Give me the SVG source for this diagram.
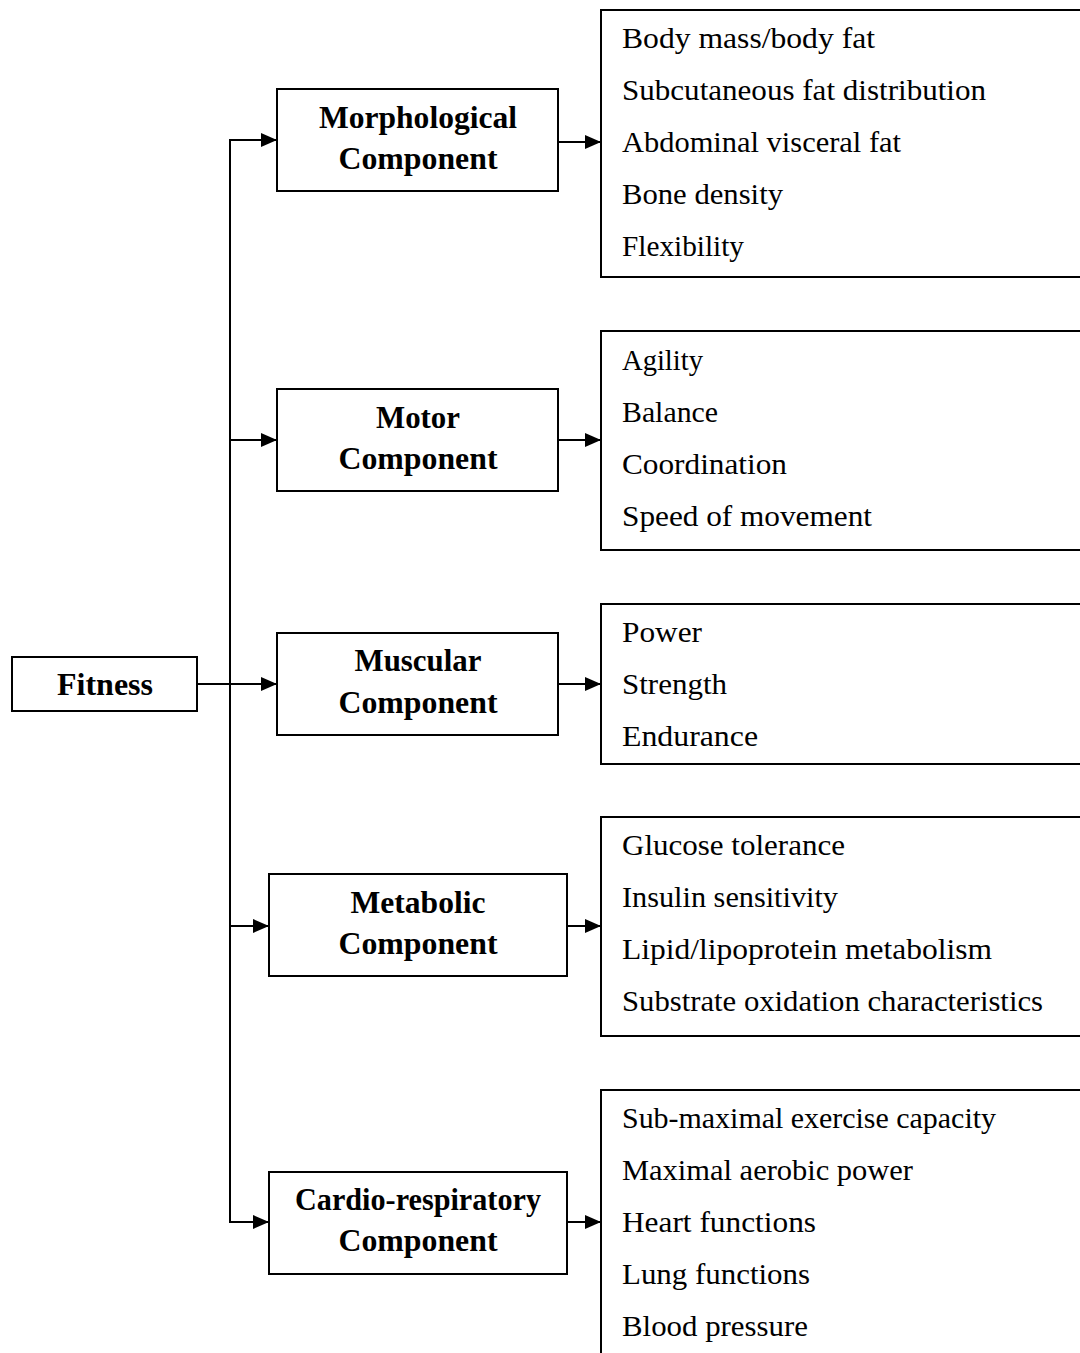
<svg xmlns="http://www.w3.org/2000/svg" width="1080" height="1353" viewBox="0 0 1080 1353">
  <defs>
    <marker id="arrow" markerWidth="16" markerHeight="14" refX="16" refY="7" orient="auto" markerUnits="userSpaceOnUse">
      <path d="M0,0 L16,7 L0,14 Z" fill="#000"/>
    </marker>
    <style>
      .box { fill: #fff; stroke: #000; stroke-width: 2; }
      .head { font-family: "Liberation Serif", "DejaVu Serif", serif; font-weight: bold; font-size: 31px; text-anchor: middle; fill: #000; }
      .item { font-family: "Liberation Serif", "DejaVu Serif", serif; font-size: 30px; fill: #000; }
      .link { fill: none; stroke: #000; stroke-width: 2; }
    </style>
  </defs>
  <rect width="1080" height="1353" fill="#fff"/>

  <g id="connectors">
    <!-- vertical trunk -->
    <line class="link" x1="230" y1="140" x2="230" y2="1222"/>
    <!-- trunk to component boxes -->
    <line class="link" x1="229" y1="140" x2="277" y2="140" marker-end="url(#arrow)"/>
    <line class="link" x1="230" y1="440" x2="277" y2="440" marker-end="url(#arrow)"/>
    <line class="link" x1="197" y1="684" x2="277" y2="684" marker-end="url(#arrow)"/>
    <line class="link" x1="230" y1="926" x2="269" y2="926" marker-end="url(#arrow)"/>
    <line class="link" x1="229" y1="1222" x2="269" y2="1222" marker-end="url(#arrow)"/>
    <!-- component boxes to detail lists -->
    <line class="link" x1="558" y1="142" x2="601" y2="142" marker-end="url(#arrow)"/>
    <line class="link" x1="558" y1="440" x2="601" y2="440" marker-end="url(#arrow)"/>
    <line class="link" x1="558" y1="684" x2="601" y2="684" marker-end="url(#arrow)"/>
    <line class="link" x1="567" y1="926" x2="601" y2="926" marker-end="url(#arrow)"/>
    <line class="link" x1="567" y1="1222" x2="601" y2="1222" marker-end="url(#arrow)"/>
  </g>

  <g id="fitness">
    <rect class="box" x="12" y="657" width="185" height="54"/>
    <text class="head" x="105" y="695" textLength="96" lengthAdjust="spacingAndGlyphs">Fitness</text>
  </g>

  <g id="morphological">
    <rect class="box" x="277" y="89" width="281" height="102"/>
    <text class="head" x="418" y="128" textLength="198" lengthAdjust="spacingAndGlyphs">Morphological</text>
    <text class="head" x="418" y="169" textLength="159" lengthAdjust="spacingAndGlyphs">Component</text>
  </g>
  <g id="motor">
    <rect class="box" x="277" y="389" width="281" height="102"/>
    <text class="head" x="418" y="428" textLength="84" lengthAdjust="spacingAndGlyphs">Motor</text>
    <text class="head" x="418" y="469" textLength="159" lengthAdjust="spacingAndGlyphs">Component</text>
  </g>
  <g id="muscular">
    <rect class="box" x="277" y="633" width="281" height="102"/>
    <text class="head" x="418" y="671" textLength="127" lengthAdjust="spacingAndGlyphs">Muscular</text>
    <text class="head" x="418" y="713" textLength="159" lengthAdjust="spacingAndGlyphs">Component</text>
  </g>
  <g id="metabolic">
    <rect class="box" x="269" y="874" width="298" height="102"/>
    <text class="head" x="418" y="913" textLength="135" lengthAdjust="spacingAndGlyphs">Metabolic</text>
    <text class="head" x="418" y="954" textLength="159" lengthAdjust="spacingAndGlyphs">Component</text>
  </g>
  <g id="cardio">
    <rect class="box" x="269" y="1172" width="298" height="102"/>
    <text class="head" x="418" y="1210" textLength="246" lengthAdjust="spacingAndGlyphs">Cardio-respiratory</text>
    <text class="head" x="418" y="1251" textLength="159" lengthAdjust="spacingAndGlyphs">Component</text>
  </g>

  <g id="morphological-items">
    <path class="link" d="M1082,10 H601 V277 H1082"/>
    <text class="item" x="622" y="48" textLength="253" lengthAdjust="spacingAndGlyphs">Body mass/body fat</text>
    <text class="item" x="622" y="100" textLength="364" lengthAdjust="spacingAndGlyphs">Subcutaneous fat distribution</text>
    <text class="item" x="622" y="152" textLength="279" lengthAdjust="spacingAndGlyphs">Abdominal visceral fat</text>
    <text class="item" x="622" y="204" textLength="161" lengthAdjust="spacingAndGlyphs">Bone density</text>
    <text class="item" x="622" y="256" textLength="122" lengthAdjust="spacingAndGlyphs">Flexibility</text>
  </g>
  <g id="motor-items">
    <path class="link" d="M1082,331 H601 V550 H1082"/>
    <text class="item" x="622" y="370" textLength="81" lengthAdjust="spacingAndGlyphs">Agility</text>
    <text class="item" x="622" y="422" textLength="96" lengthAdjust="spacingAndGlyphs">Balance</text>
    <text class="item" x="622" y="474" textLength="165" lengthAdjust="spacingAndGlyphs">Coordination</text>
    <text class="item" x="622" y="526" textLength="250" lengthAdjust="spacingAndGlyphs">Speed of movement</text>
  </g>
  <g id="muscular-items">
    <path class="link" d="M1082,604 H601 V764 H1082"/>
    <text class="item" x="622" y="642" textLength="80" lengthAdjust="spacingAndGlyphs">Power</text>
    <text class="item" x="622" y="694" textLength="105" lengthAdjust="spacingAndGlyphs">Strength</text>
    <text class="item" x="622" y="746" textLength="136" lengthAdjust="spacingAndGlyphs">Endurance</text>
  </g>
  <g id="metabolic-items">
    <path class="link" d="M1082,817 H601 V1036 H1082"/>
    <text class="item" x="622" y="855" textLength="223" lengthAdjust="spacingAndGlyphs">Glucose tolerance</text>
    <text class="item" x="622" y="907" textLength="216" lengthAdjust="spacingAndGlyphs">Insulin sensitivity</text>
    <text class="item" x="622" y="959" textLength="370" lengthAdjust="spacingAndGlyphs">Lipid/lipoprotein metabolism</text>
    <text class="item" x="622" y="1011" textLength="421" lengthAdjust="spacingAndGlyphs">Substrate oxidation characteristics</text>
  </g>
  <g id="cardio-items">
    <path class="link" d="M1082,1090 H601 V1355"/>
    <text class="item" x="622" y="1128" textLength="374" lengthAdjust="spacingAndGlyphs">Sub-maximal exercise capacity</text>
    <text class="item" x="622" y="1180" textLength="291" lengthAdjust="spacingAndGlyphs">Maximal aerobic power</text>
    <text class="item" x="622" y="1232" textLength="194" lengthAdjust="spacingAndGlyphs">Heart functions</text>
    <text class="item" x="622" y="1284" textLength="188" lengthAdjust="spacingAndGlyphs">Lung functions</text>
    <text class="item" x="622" y="1336" textLength="186" lengthAdjust="spacingAndGlyphs">Blood pressure</text>
  </g>
</svg>
